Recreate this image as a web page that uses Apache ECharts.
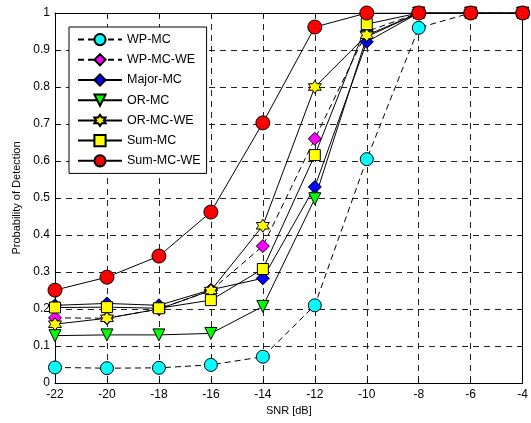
<!DOCTYPE html>
<html><head><meta charset="utf-8">
<script src="https://cdn.jsdelivr.net/npm/echarts@6/dist/echarts.min.js"></script>
<style>html,body{margin:0;padding:0;background:#fff}#c{width:531px;height:423px}</style>
</head><body><div id="c"></div>
<script>
var snr = [-22, -20, -18, -16, -14, -12, -10, -8, -6, -4];
var wpMC     = [0.042, 0.040, 0.041, 0.049, 0.071, 0.210, 0.605, 0.960, 1, 1];
var wpMCWE   = [0.176, 0.175, 0.200, 0.250, 0.370, 0.660, 0.950, 1, 1, 1];
var majorMC  = [0.210, 0.215, 0.210, 0.252, 0.283, 0.530, 0.922, 1, 1, 1];
var orMC     = [0.128, 0.130, 0.130, 0.134, 0.207, 0.498, 0.936, 1, 1, 1];
var orMCWE   = [0.159, 0.175, 0.200, 0.250, 0.425, 0.800, 0.940, 1, 1, 1];
var sumMC    = [0.204, 0.205, 0.202, 0.224, 0.308, 0.616, 0.970, 1, 1, 1];
var sumMCWE  = [0.251, 0.286, 0.343, 0.462, 0.703, 0.962, 1, 1, 1, 1];
var yTicks = [0, 0.1, 0.2, 0.3, 0.4, 0.5, 0.6, 0.7, 0.8, 0.9, 1];

var hexagram = 'path://M0,-100 L28.9,-50 L86.6,-50 L57.7,0 L86.6,50 L28.9,50 L0,100 L-28.9,50 L-86.6,50 L-57.7,0 L-86.6,-50 L-28.9,-50 Z';

function pairs(v){ return snr.map(function(x,i){ return [x, v[i]]; }); }
function mk(name, data, symbol, size, color, dashed, rotate){
  return {
    name: name, type: 'line', data: pairs(data),
    symbol: symbol, symbolSize: size, symbolRotate: rotate || 0,
    showAllSymbol: true,
    lineStyle: {color: '#000', width: 1, type: dashed ? [6,4] : 'solid'},
    itemStyle: {color: color, borderColor: '#000', borderWidth: 1},
    emphasis: {disabled: true}, animation: false, z: 3
  };
}
var font = 'Liberation Sans, Arial, sans-serif';
var chart = echarts.init(document.getElementById('c'));
chart.setOption({
  backgroundColor: '#fff',
  animation: false,
  grid: {left: 55, right: 8, top: 13, bottom: 40, containLabel: false},
  legend: {
    orient: 'vertical', left: 69, top: 27,
    backgroundColor: '#fff', borderColor: '#000', borderWidth: 1,
    padding: [6, 6, 6, 8], itemGap: 7, itemWidth: 44, itemHeight: 14,
    textStyle: {fontFamily: font, fontSize: 12.5, color: '#000'},
    data: ['WP-MC','WP-MC-WE','Major-MC','OR-MC','OR-MC-WE','Sum-MC','Sum-MC-WE']
  },
  xAxis: [{
    type: 'value', min: -22, max: -4, interval: 2,
    name: 'SNR [dB]', nameLocation: 'middle', nameGap: 22,
    nameTextStyle: {fontFamily: font, fontSize: 11, color: '#000'},
    axisLine: {show: true, onZero: false, lineStyle: {color: '#000', width: 1}},
    axisTick: {show: true, inside: true, length: 4, lineStyle: {color: '#000'}},
    axisLabel: {fontFamily: font, fontSize: 12, color: '#000', margin: 6},
    splitLine: {show: true, lineStyle: {color: '#222', type: [6,5], width: 1}}
  },{
    type: 'value', min: -22, max: -4, interval: 2, position: 'top',
    axisLine: {show: true, onZero: false, lineStyle: {color: '#000', width: 1}},
    axisTick: {show: true, inside: true, length: 4, lineStyle: {color: '#000'}},
    axisLabel: {show: false}, splitLine: {show: false}
  }],
  yAxis: [{
    type: 'value', min: 0, max: 1, interval: 0.1,
    name: 'Probability of Detection', nameLocation: 'middle', nameGap: 33,
    nameTextStyle: {fontFamily: font, fontSize: 11, color: '#000'},
    axisLine: {show: true, onZero: false, lineStyle: {color: '#000', width: 1}},
    axisTick: {show: true, inside: true, length: 4, lineStyle: {color: '#000'}},
    axisLabel: {fontFamily: font, fontSize: 12, color: '#000', margin: 5,
      formatter: function(v){ var i = yTicks.indexOf(Math.round(v*10)/10); return i>=0 ? String(yTicks[i]) : ''; }},
    splitLine: {show: true, lineStyle: {color: '#222', type: [6,5], width: 1}}
  },{
    type: 'value', min: 0, max: 1, interval: 0.1, position: 'right',
    axisLine: {show: true, onZero: false, lineStyle: {color: '#000', width: 1}},
    axisTick: {show: true, inside: true, length: 4, lineStyle: {color: '#000'}},
    axisLabel: {show: false}, splitLine: {show: false}
  }],
  series: [
    mk('WP-MC', wpMC, 'circle', 13, '#00ffff', true),
    mk('WP-MC-WE', wpMCWE, 'diamond', 13, '#ff00ff', true),
    mk('Major-MC', majorMC, 'diamond', 13, '#0000ff', false),
    mk('OR-MC', orMC, 'triangle', 12, '#00ff00', false, 180),
    mk('OR-MC-WE', orMCWE, hexagram, 13, '#ffff00', false),
    mk('Sum-MC', sumMC, 'rect', 11, '#ffff00', false),
    mk('Sum-MC-WE', sumMCWE, 'circle', 14, '#ff0000', false)
  ]
});
</script></body></html>
